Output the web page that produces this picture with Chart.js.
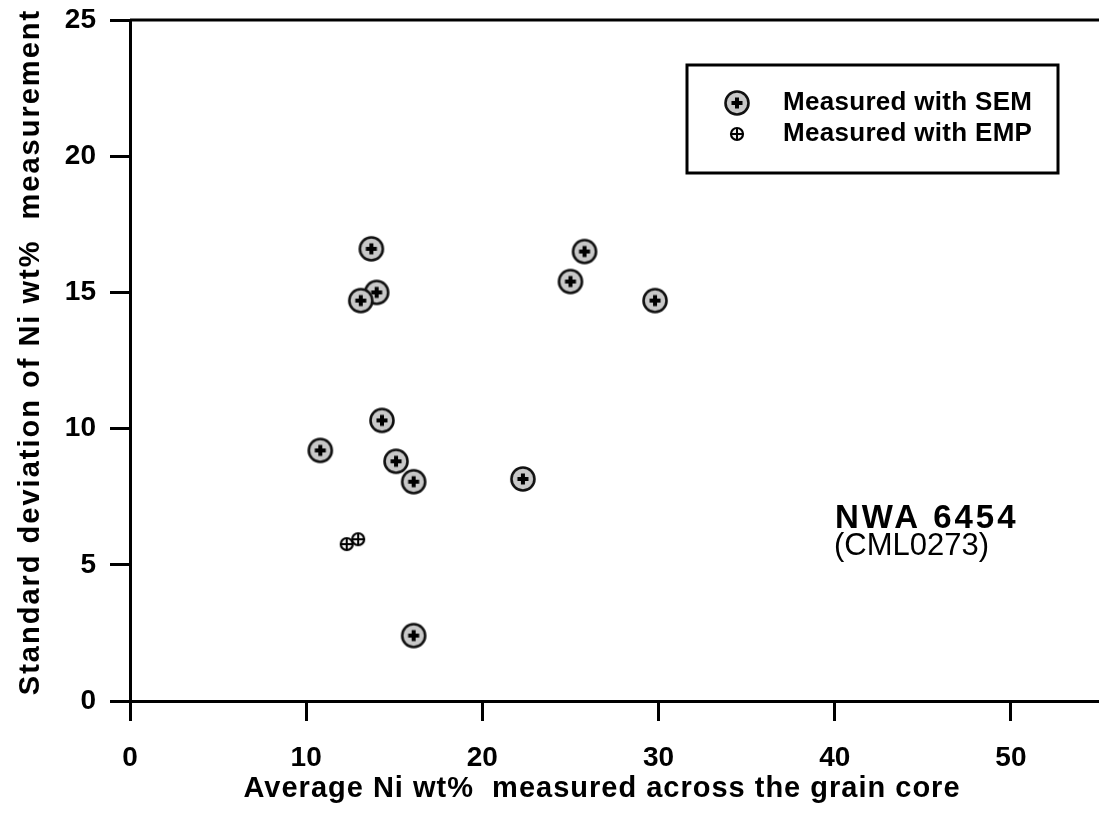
<!DOCTYPE html>
<html>
<head>
<meta charset="utf-8">
<script src="https://cdn.jsdelivr.net/npm/chart.js@4/dist/chart.umd.min.js"></script>
<style>
  html, body { margin: 0; padding: 0; background: #fff; overflow: hidden; }
  #wrap { width: 1099px; height: 818px; }
</style>
</head>
<body>
<div id="wrap"><canvas id="chart" width="1099" height="818"></canvas></div>
<script>
// values
var semAvgNi = [10.8, 13.7, 14.0, 13.1, 14.3, 15.1, 16.1, 16.1, 22.3, 25.0, 25.8, 29.8];
var semStdNi = [9.2, 16.6, 15.0, 14.7, 10.3, 8.8, 8.05, 2.4, 8.15, 15.4, 16.5, 14.7];
var empAvgNi = [12.3, 12.95];
var empStdNi = [5.76, 5.94];

var seriesNames = ['Measured with SEM', 'Measured with EMP'];
var xTitle = 'Average Ni wt%  measured across the grain core';
var yTitle = 'Standard deviation of Ni wt%  measurement';
var sampleName = 'NWA 6454';
var sampleCode = '(CML0273)';

var FONT = "'Liberation Sans', Arial, sans-serif";

function toPoints(xs, ys) {
    return xs.map(function (x, i) { return { x: x, y: ys[i] }; });
}

function semMarker() {
    var c = document.createElement('canvas');
    c.width = 30; c.height = 30;
    var g = c.getContext('2d');
    g.beginPath();
    g.arc(15, 15, 11.5, 0, Math.PI * 2);
    g.fillStyle = '#c8c8c8';
    g.fill();
    g.lineWidth = 2.6;
    g.strokeStyle = '#111';
    g.stroke();
    g.fillStyle = '#000';
    g.fillRect(9.5, 13, 11, 4);
    g.fillRect(13, 9.5, 4, 11);
    return c;
}

function empMarker() {
    var c = document.createElement('canvas');
    c.width = 18; c.height = 18;
    var g = c.getContext('2d');
    g.beginPath();
    g.arc(9, 9, 6, 0, Math.PI * 2);
    g.fillStyle = '#f2f2f2';
    g.fill();
    g.lineWidth = 2.2;
    g.strokeStyle = '#000';
    g.stroke();
    g.beginPath();
    g.moveTo(3, 9); g.lineTo(15, 9);
    g.moveTo(9, 3); g.lineTo(9, 15);
    g.lineWidth = 2;
    g.stroke();
    return c;
}

var semImg = semMarker();
var empImg = empMarker();

var extras = {
    id: 'extras',
    afterDraw: function (chart) {
        var ctx = chart.ctx;
        var a = chart.chartArea;
        ctx.save();
        // top frame line
        ctx.strokeStyle = '#000';
        ctx.lineWidth = 3;
        ctx.beginPath();
        ctx.moveTo(a.left, a.top);
        ctx.lineTo(a.right, a.top);
        ctx.stroke();

        // legend box
        ctx.lineWidth = 3;
        ctx.strokeRect(687, 65, 371, 108);
        var imgs = [semImg, empImg];
        var rows = [103, 134];
        ctx.fillStyle = '#000';
        ctx.textBaseline = 'middle';
        ctx.textAlign = 'left';
        ctx.font = 'bold 26px ' + FONT;
        ctx.letterSpacing = '0.3px';
        chart.data.datasets.forEach(function (ds, i) {
            var im = imgs[i];
            ctx.drawImage(im, 737 - im.width / 2, rows[i] - im.height / 2);
            ctx.fillText(ds.label, 783, rows[i]);
        });

        // sample annotation
        ctx.textBaseline = 'alphabetic';
        ctx.font = 'bold 33px ' + FONT;
        ctx.letterSpacing = '3px';
        ctx.fillText(sampleName, 835, 528);
        ctx.font = '31px ' + FONT;
        ctx.letterSpacing = '0px';
        ctx.fillText(sampleCode, 834, 555);

        // axis titles
        ctx.textAlign = 'center';
        ctx.font = 'bold 29px ' + FONT;
        ctx.letterSpacing = '1px';
        ctx.fillText(xTitle, 602, 797);
        ctx.translate(39, 352);
        ctx.rotate(-Math.PI / 2);
        ctx.letterSpacing = '2px';
        ctx.fillText(yTitle, 0, 0);
        ctx.restore();
        ctx.letterSpacing = '0px';
    }
};

var ctx = document.getElementById('chart').getContext('2d');
var myChart = new Chart(ctx, {
    type: 'scatter',
    data: {
        datasets: [{
            label: seriesNames[0],
            data: toPoints(semAvgNi, semStdNi),
            pointStyle: semImg,
            pointRadius: 13
        }, {
            label: seriesNames[1],
            data: toPoints(empAvgNi, empStdNi),
            pointStyle: empImg,
            pointRadius: 7
        }]
    },
    options: {
        responsive: false,
        animation: false,
        layout: { autoPadding: false, padding: { top: 20, right: 0, left: 0, bottom: 0 } },
        plugins: {
            legend: { display: false },
            tooltip: { enabled: false }
        },
        scales: {
            x: {
                type: 'linear',
                min: 0,
                max: 55,
                afterFit: function (s) { s.height = 117; s.paddingLeft = 0; s.paddingRight = 0; },
                ticks: {
                    stepSize: 10,
                    includeBounds: false,
                    color: '#000',
                    padding: 20,
                    maxRotation: 0,
                    font: { family: FONT, size: 28, weight: 'bold' }
                },
                grid: { drawOnChartArea: false, tickLength: 20, color: '#000', lineWidth: 3 },
                border: { color: '#000', width: 3 }
            },
            y: {
                type: 'linear',
                min: 0,
                max: 25,
                afterFit: function (s) { s.width = 130; s.paddingTop = 0; s.paddingBottom = 0; },
                ticks: {
                    stepSize: 5,
                    color: '#000',
                    padding: 14,
                    font: { family: FONT, size: 28, weight: 'bold' }
                },
                grid: { drawOnChartArea: false, tickLength: 20, color: '#000', lineWidth: 3 },
                border: { color: '#000', width: 3 }
            }
        }
    },
    plugins: [extras]
});
</script>
</body>
</html>
